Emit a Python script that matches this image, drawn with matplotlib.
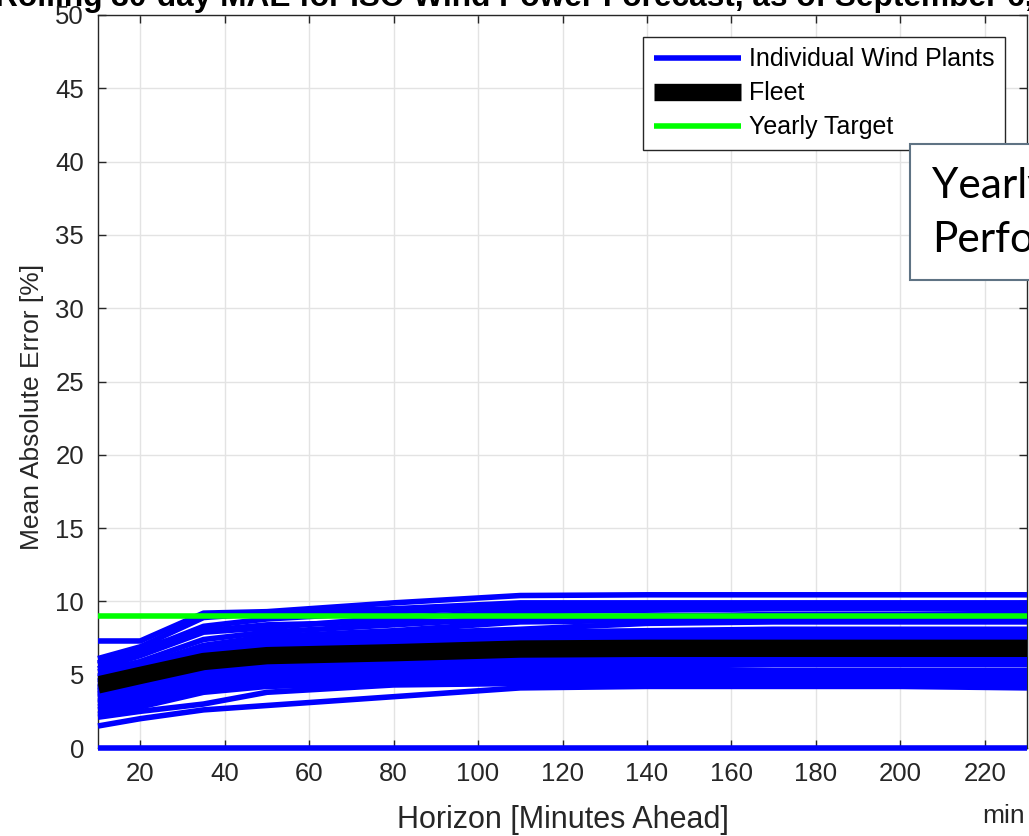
import matplotlib
matplotlib.use("Agg")
import matplotlib.pyplot as plt
from matplotlib.patches import Rectangle

plt.rcParams['font.family'] = ['Liberation Sans', 'DejaVu Sans']

# horizons (minutes ahead)
horizon = [10, 20, 35, 50, 80, 110, 140, 170, 200, 230]

# individual wind plants, MAE [%]
plants = [
    [7.3, 7.3, 9.2, 9.3, 9.9, 10.4, 10.45, 10.45, 10.45, 10.45],
    [6.1, 6.9, 8.9, 9.2, 9.5, 9.9, 9.9, 9.9, 9.9, 9.9],
    [5.7, 6.6, 8.3, 8.8, 9.3, 9.6, 9.7, 9.7, 9.7, 9.7],
    [5.4, 6.3, 7.9, 8.2, 8.9, 9.3, 9.4, 9.5, 9.5, 9.5],
    [5.2, 5.9, 7.4, 7.9, 8.4, 8.9, 9.0, 9.1, 9.1, 9.2],
    [5.8, 6.8, 8.0, 8.4, 8.6, 8.7, 8.8, 8.9, 9.0, 9.0],
    [4.9, 5.6, 7.0, 7.6, 8.0, 8.6, 8.7, 8.7, 8.8, 8.8],
    [4.8, 5.4, 6.7, 7.4, 7.8, 8.1, 8.5, 8.6, 8.6, 8.6],
    [4.6, 5.3, 6.5, 7.1, 7.6, 7.9, 8.0, 8.1, 8.1, 8.1],
    [4.5, 5.1, 6.3, 6.9, 7.3, 7.7, 7.8, 7.8, 7.9, 7.9],
    [4.4, 5.0, 6.1, 6.7, 7.1, 7.4, 7.5, 7.6, 7.6, 7.6],
    [4.2, 4.9, 6.0, 6.5, 6.9, 7.2, 7.2, 7.3, 7.3, 7.3],
    [4.1, 4.7, 5.8, 6.3, 6.6, 6.9, 7.0, 7.0, 7.0, 7.0],
    [4.0, 4.6, 5.6, 6.1, 6.4, 6.6, 6.7, 6.7, 6.7, 6.7],
    [3.9, 4.5, 5.5, 5.9, 6.2, 6.4, 6.4, 6.4, 6.4, 6.4],
    [3.8, 4.4, 5.3, 5.8, 6.0, 6.2, 6.2, 6.2, 6.2, 6.2],
    [3.7, 4.3, 5.2, 5.6, 5.9, 6.0, 6.0, 6.0, 6.0, 6.0],
    [3.6, 4.2, 5.1, 5.4, 5.7, 5.8, 5.8, 5.8, 5.8, 5.8],
    [3.5, 4.0, 4.9, 5.3, 5.5, 5.6, 5.7, 5.7, 5.7, 5.7],
    [3.4, 3.9, 4.7, 5.2, 5.3, 5.4, 5.4, 5.3, 5.3, 5.3],
    [3.2, 3.7, 4.5, 5.0, 5.1, 5.2, 5.2, 5.2, 5.1, 5.1],
    [3.1, 3.6, 4.4, 4.8, 5.0, 5.0, 5.0, 5.0, 5.0, 5.0],
    [3.0, 3.4, 4.2, 4.6, 4.8, 4.9, 4.8, 4.8, 4.8, 4.8],
    [2.8, 3.3, 4.1, 4.5, 4.7, 4.7, 4.7, 4.6, 4.6, 4.6],
    [2.6, 3.1, 3.9, 4.3, 4.5, 4.6, 4.5, 4.5, 4.5, 4.5],
    [2.3, 2.8, 3.8, 4.2, 4.4, 4.5, 4.4, 4.4, 4.4, 4.4],
    [2.1, 2.5, 3.0, 3.8, 4.3, 4.4, 4.3, 4.3, 4.3, 4.3],
    [1.5, 2.0, 2.6, 2.9, 3.5, 4.1, 4.2, 4.2, 4.2, 4.1],
    [0.0, 0.0, 0.0, 0.0, 0.0, 0.0, 0.0, 0.0, 0.0, 0.0],
]

fleet = [4.3, 4.95, 5.9, 6.3, 6.5, 6.75, 6.8, 6.8, 6.8, 6.8]
target = 9.0

title = "Rolling 30-day MAE for ISO Wind Power Forecast, as of September 6, 2019"
dark = '#262626'

fig = plt.figure(figsize=(10.29, 8.36), dpi=100)
ax = fig.add_axes([98/1029, 1 - 748/836, 929/1029, 733/836])

for i, p in enumerate(plants):
    ax.plot(horizon, p, color=(0, 0, 1), lw=4, solid_capstyle='butt', clip_on=False,
            label='Individual Wind Plants' if i == 0 else None, zorder=2.6)
ax.plot(horizon, fleet, color='k', lw=12.5, solid_capstyle='butt', label='Fleet', zorder=3)
ax.plot([horizon[0], horizon[-1]], [target, target], color=(0, 1, 0), lw=4,
        solid_capstyle='butt', label='Yearly Target', zorder=4)

ax.set_xlim(10, 230)
ax.set_ylim(0, 50)
ax.set_xticks(range(20, 221, 20))
ax.set_yticks(range(0, 51, 5))
ax.grid(True, color='#e3e3e3', lw=1)
ax.set_axisbelow(True)
ax.tick_params(direction='in', top=True, right=True, length=6, width=1,
               colors=dark, labelsize=18.5, pad=10)
for s in ax.spines.values():
    s.set_color(dark)
    s.set_linewidth(1)

ax.set_xlabel('Horizon [Minutes Ahead]', fontsize=22, color=dark, labelpad=14)
ax.set_ylabel('Mean Absolute Error [%]', fontsize=19, color=dark)
ax.yaxis.set_label_coords(-0.058, 0.465)

leg = ax.legend(loc='upper right', bbox_to_anchor=(0.976, 0.970), borderaxespad=0,
                fancybox=False, fontsize=18, handlelength=3.5, handletextpad=0.3,
                labelspacing=0.4, borderpad=0.42, framealpha=1)
leg.get_frame().set_edgecolor(dark)
leg.get_frame().set_linewidth(1)
leg.set_zorder(6)

# title, clipped at top of the image
fig.text(-5/1029, 1 - 6/836, title, fontsize=22.8, fontweight='bold',
         ha='left', va='baseline')

# "min" label, clipped at right
fig.text(982/1029, 1 - 823/836, 'min', fontsize=19, color=dark,
         ha='left', va='baseline')

# overlay callout box
fig.patches.append(Rectangle((910/1029, 1 - 280/836), 200/1029, 136/836,
                             transform=fig.transFigure, facecolor='white',
                             edgecolor='#5f7384', lw=1.5, zorder=10))
fig.text(932/1029, 1 - 198/836, 'Yearly', fontsize=30.5, family=['Lato', 'DejaVu Sans'],
         ha='left', va='baseline', zorder=11)
fig.text(932/1029, 1 - 252/836, 'Performance', fontsize=30.5, family=['Lato', 'DejaVu Sans'],
         ha='left', va='baseline', zorder=11)

fig.savefig('out.png', dpi=100)
